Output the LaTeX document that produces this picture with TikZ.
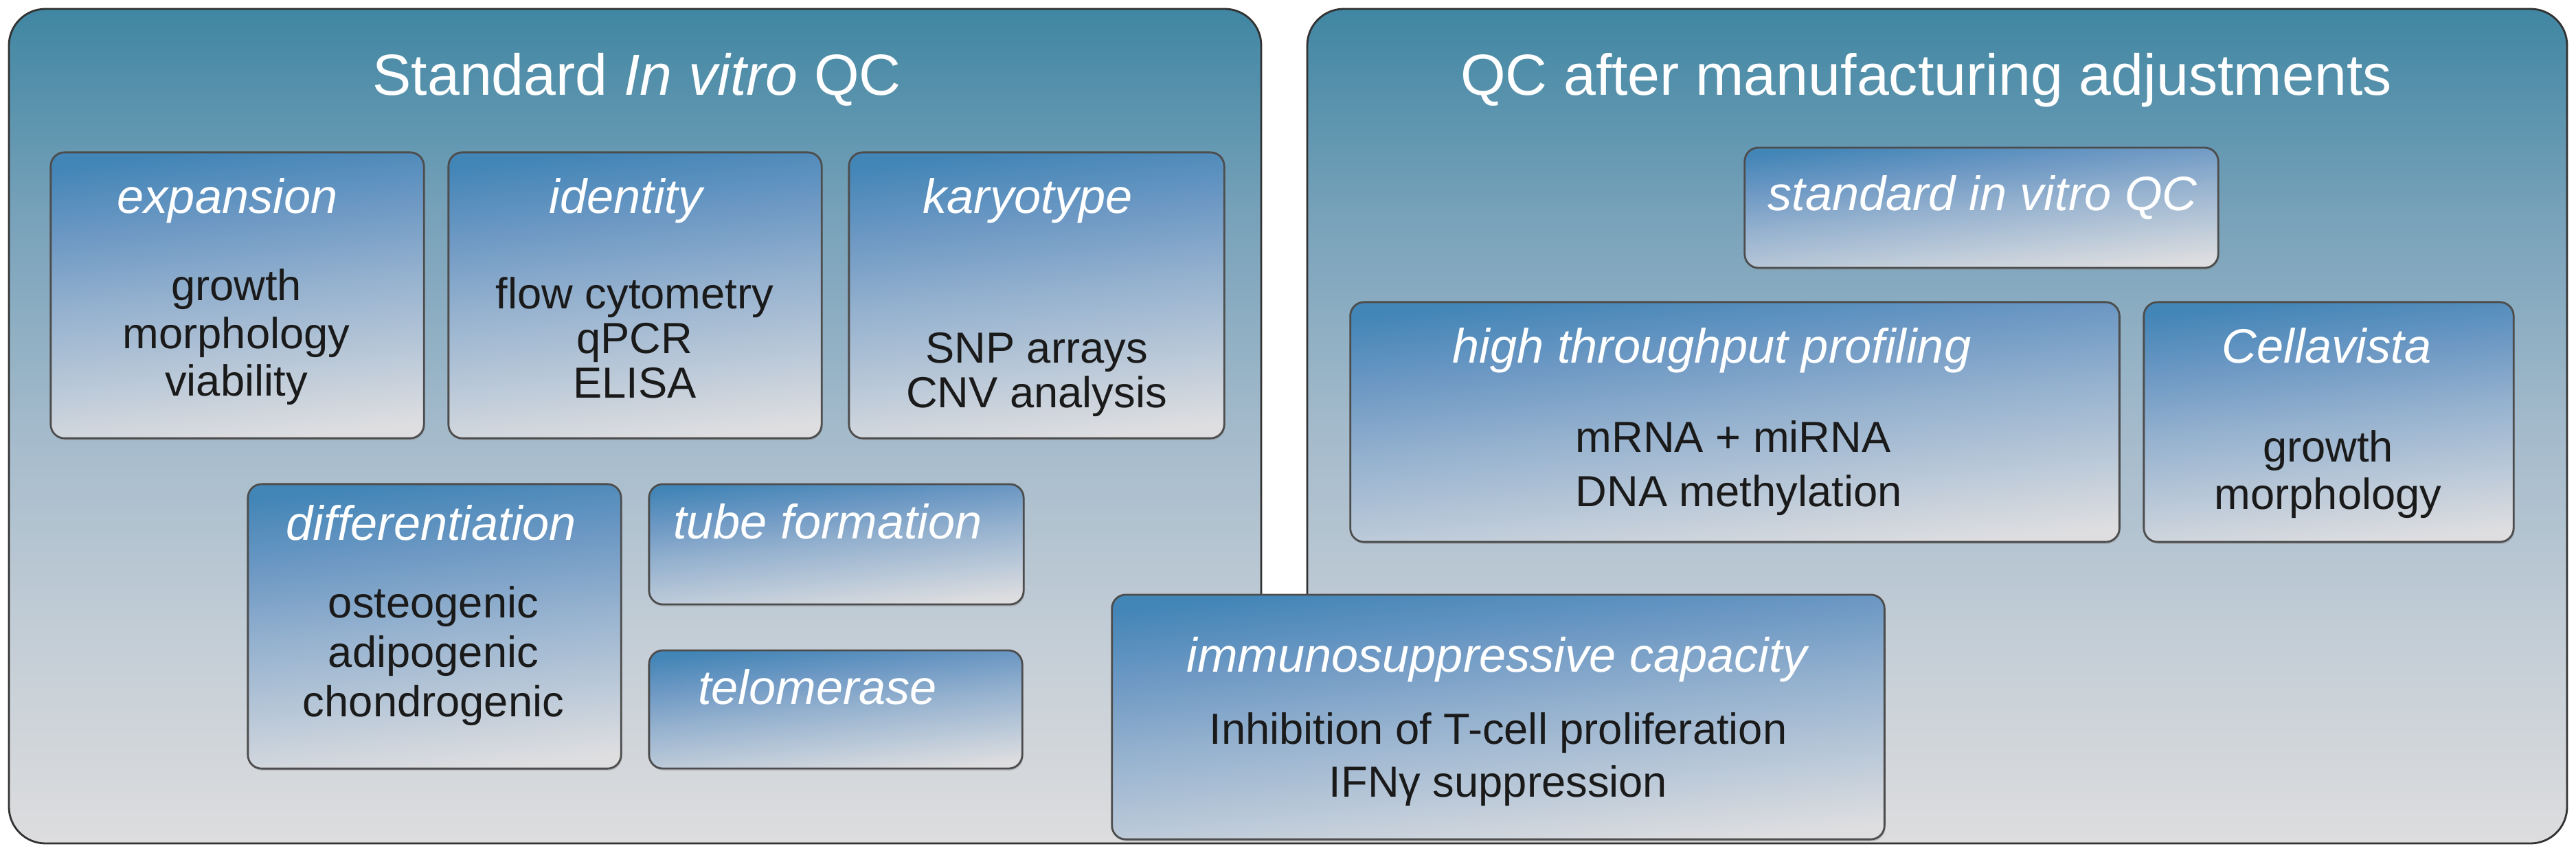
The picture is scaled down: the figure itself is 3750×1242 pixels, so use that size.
\documentclass[tikz,border=0pt]{standalone}
\usepackage{fontspec}
\setmainfont{Liberation Sans}
\usetikzlibrary{shadows}
\definecolor{ptop}{RGB}{64,134,162}
\definecolor{pone}{RGB}{120,162,186}
\definecolor{ptwo}{RGB}{163,186,203}
\definecolor{pthree}{RGB}{195,205,214}
\definecolor{pbot}{RGB}{221,221,222}
\definecolor{btop}{RGB}{66,133,183}
\definecolor{bone}{RGB}{110,153,196}
\definecolor{btwo}{RGB}{150,178,207}
\definecolor{bthree}{RGB}{185,200,216}
\definecolor{bbot}{RGB}{222,222,224}
\definecolor{panelline}{RGB}{50,50,50}
\definecolor{boxline}{RGB}{77,77,77}
\definecolor{bodyink}{RGB}{26,26,26}
\pgfdeclareverticalshading{panelshade}{100bp}{color(0bp)=(pbot); color(25bp)=(pbot); color(37.5bp)=(pthree); color(50bp)=(ptwo); color(62.5bp)=(pone); color(75bp)=(ptop); color(100bp)=(ptop)}
\pgfdeclareverticalshading{boxshade}{100bp}{color(0bp)=(bbot); color(25bp)=(bbot); color(37.5bp)=(bthree); color(50bp)=(btwo); color(62.5bp)=(bone); color(75bp)=(btop); color(100bp)=(btop)}
\begin{document}
\begin{tikzpicture}[x=0.01cm,y=-0.01cm,
  panel/.style={draw=panelline, line width=0.8pt, shading=panelshade, rounded corners=0.53cm},
  qbox/.style={rectangle, draw=boxline, line width=0.8pt, shading=boxshade, shading angle=6,
    rounded corners=0.2cm, inner sep=0pt, outer sep=0pt,
    drop shadow={opacity=0.35, shadow xshift=0.4pt, shadow yshift=-0.8pt}},
  ttl/.style={anchor=base, inner sep=0pt, text=white, font=\fontsize{24}{28}\selectfont},
  hdr/.style={anchor=base, inner sep=0pt, text=white, font=\fontsize{20}{24}\selectfont\itshape},
  bdy/.style={anchor=base, inner sep=0pt, text=bodyink, font=\fontsize{18}{20}\selectfont}]
\fill[white] (0,0) rectangle (3750,1242);
\useasboundingbox (0,0) rectangle (3750,1242);

% panels
\path[panel] (13,600) -- (13,13) -- (1836,13) -- (1836,1050) -- (1903,1050) -- (1903,13)
  -- (3737,13) -- (3737,1228) -- (13,1228) -- cycle;

\node[ttl] (ttlL) at (927,138) {Standard \textit{In vitro} QC};
\node[ttl] (ttlR) at (2804,138) {QC after manufacturing adjustments};

% left panel boxes
\node[qbox, minimum width=5.43cm, minimum height=4.16cm] (expbox) at (345.5,430) {};
\node[hdr] (exph) at (331,310) {expansion};
\node[bdy] (exp1) at (344,437) {growth};
\node[bdy] (exp2) at (344,507) {morphology};
\node[bdy] (exp3) at (344,576) {viability};

\node[qbox, minimum width=5.43cm, minimum height=4.16cm] (idbox) at (924.5,430) {};
\node[hdr] (idh) at (911,310) {identity};
\node[bdy] (id1) at (924,449) {flow cytometry};
\node[bdy] (id2) at (924,514) {qPCR};
\node[bdy] (id3) at (924,579) {ELISA};

\node[qbox, minimum width=5.46cm, minimum height=4.16cm] (karbox) at (1509,430) {};
\node[hdr] (karh) at (1496,310) {karyotype};
\node[bdy] (kar1) at (1509,528) {SNP arrays};
\node[bdy] (kar2) at (1509,593) {CNV analysis};

\node[qbox, minimum width=5.43cm, minimum height=4.14cm] (difbox) at (632.5,912) {};
\node[hdr] (difh) at (628,786) {differentiation};
\node[bdy] (dif1) at (631,899) {osteogenic};
\node[bdy] (dif2) at (631,971) {adipogenic};
\node[bdy] (dif3) at (631,1043) {chondrogenic};

\node[qbox, minimum width=5.45cm, minimum height=1.75cm] (tubbox) at (1217.5,792.5) {};
\node[hdr] (tubh) at (1205,784) {tube formation};

\node[qbox, minimum width=5.43cm, minimum height=1.72cm] (telbox) at (1216.5,1033) {};
\node[hdr] (telh) at (1190,1025) {telomerase};

% right panel boxes
\node[qbox, minimum width=6.89cm, minimum height=1.75cm] (stdbox) at (2884.5,302.5) {};
\node[hdr] (stdh) at (2886,306) {standard in vitro QC};

\node[qbox, minimum width=11.19cm, minimum height=3.49cm] (htpbox) at (2525.5,614.5) {};
\node[hdr] (htph) at (2492,528) {high throughput profiling};
\node[bdy, anchor=base west] (htp1) at (2293,658) {mRNA + miRNA};
\node[bdy, anchor=base west] (htp2) at (2293,737) {DNA methylation};

\node[qbox, minimum width=5.38cm, minimum height=3.49cm] (celbox) at (3390,614.5) {};
\node[hdr] (celh) at (3387,528) {Cellavista};
\node[bdy] (cel1) at (3389,672) {growth};
\node[bdy] (cel2) at (3389,741) {morphology};

% immunosuppressive box
\node[qbox, minimum width=11.24cm, minimum height=3.56cm] (immbox) at (2181,1044) {};
\node[hdr] (immh) at (2179,978) {immunosuppressive capacity};
\node[bdy] (imm1) at (2181,1083) {Inhibition of T-cell proliferation};
\node[bdy] (imm2) at (2181,1160) {IFNγ suppression};
\end{tikzpicture}
\end{document}
